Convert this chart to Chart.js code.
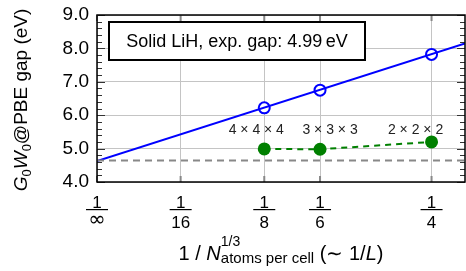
<!DOCTYPE html>
<html><head><meta charset="utf-8">
<script src="https://cdn.jsdelivr.net/npm/chart.js@4/dist/chart.umd.min.js"></script>
<style>html,body{margin:0;padding:0;background:#fff;overflow:hidden}#w{width:466px;height:271px;position:relative}</style>
</head><body><div id="w"><canvas id="c"></canvas></div>
<script>
// ---- data ----
const xTickValues = [0, 1/16, 1/8, 1/6, 1/4];
const xTickDenoms = ['∞', '16', '8', '6', '4'];
const yTickValues = [4, 5, 6, 7, 8, 9];
const cellX = [1/8, 1/6, 1/4];
const cellLabels = ['4 × 4 × 4', '3 × 3 × 3', '2 × 2 × 2'];
const g0w0Gap = [6.22, 6.75, 7.82];
const correctedGap = [4.99, 4.98, 5.20];
const fitX = [0, 0.275];
const fitY = [4.63, 8.15];
const extrapolatedGap = 4.64;
const boxText = 'Solid LiH, exp. gap: 4.99\u2009eV';

const F = '"Liberation Sans", Arial, Helvetica, sans-serif';

function drawSegs(ctx, segs, x0, base) {
  let x = x0;
  segs.forEach(s => {
    ctx.font = s.font;
    ctx.fillText(s.t, x, base + (s.dy || 0));
    const w = ctx.measureText(s.t).width;
    if (s.adv !== false) x += w;
  });
  return x - x0;
}
function segsWidth(ctx, segs) {
  let w = 0;
  segs.forEach(s => { ctx.font = s.font; const m = ctx.measureText(s.t).width; if (s.adv !== false) w += m; });
  return w;
}
function noPad(s) { s.paddingTop = 0; s.paddingBottom = 0; s.paddingLeft = 0; s.paddingRight = 0; }

const decor = {
  id: 'decor',
  afterDraw(chart) {
    const {ctx, chartArea: a, scales: {x, y}} = chart;
    ctx.save();
    ctx.strokeStyle = '#333'; ctx.lineWidth = 1;
    for (let i = 0; i <= 25; i++) {
      const v = 4 + i * 0.2;
      const py = Math.round(y.getPixelForValue(v)) + 0.5;
      const L = (i % 5 === 0) ? 8 : 5;
      ctx.beginPath();
      ctx.moveTo(a.left, py); ctx.lineTo(a.left + L, py);
      ctx.moveTo(a.right, py); ctx.lineTo(a.right - L, py);
      ctx.stroke();
    }
    ctx.strokeStyle = '#888'; ctx.lineWidth = 2;
    xTickValues.forEach(v => {
      const px = x.getPixelForValue(v);
      ctx.beginPath();
      ctx.moveTo(px, a.top); ctx.lineTo(px, a.top + 6);
      ctx.moveTo(px, a.bottom); ctx.lineTo(px, a.bottom - 6);
      ctx.stroke();
    });
    ctx.strokeStyle = '#000'; ctx.lineWidth = 1.5;
    ctx.strokeRect(a.left, a.top, a.right - a.left, a.bottom - a.top);

    ctx.fillStyle = '#222'; ctx.font = '14px ' + F;
    ctx.textAlign = 'center'; ctx.textBaseline = 'middle';
    const offs = [-8, 10, -16];
    cellX.forEach((v, i) => {
      ctx.fillText(cellLabels[i], x.getPixelForValue(v) + offs[i], y.getPixelForValue(5.54));
    });

    const bx = a.left + 12, by = a.top + 7, bw = 256, bh = 38;
    ctx.fillStyle = '#fff'; ctx.fillRect(bx, by, bw, bh);
    ctx.strokeStyle = '#000'; ctx.lineWidth = 2; ctx.strokeRect(bx, by, bw, bh);
    ctx.fillStyle = '#000'; ctx.font = '18px ' + F;
    ctx.textAlign = 'center'; ctx.textBaseline = 'middle';
    ctx.fillText(boxText, bx + bw / 2, by + bh / 2 + 1);

    ctx.textAlign = 'center'; ctx.textBaseline = 'alphabetic'; ctx.fillStyle = '#000';
    xTickValues.forEach((v, i) => {
      const px = x.getPixelForValue(v);
      ctx.font = '17px ' + F;
      ctx.fillText('1', px, 208);
      ctx.fillRect(px - 11, 209, 22, 1.2);
      if (xTickDenoms[i] === '∞') { ctx.font = '21px "DejaVu Sans", sans-serif'; ctx.fillText('∞', px, 226); }
      else { ctx.font = '17px ' + F; ctx.fillText(xTickDenoms[i], px, 228); }
    });

    ctx.textAlign = 'left';
    const xs = [
      {t: '1 / ', font: '20px ' + F},
      {t: 'N', font: 'italic 20px ' + F},
      {t: '1/3', font: '14px ' + F, dy: -14, adv: false},
      {t: 'atoms per cell', font: '15px ' + F, dy: 3},
      {t: ' (\u223C 1/', font: '20px ' + F},
      {t: 'L', font: 'italic 20px ' + F},
      {t: ')', font: '20px ' + F}
    ];
    const xw = segsWidth(ctx, xs);
    drawSegs(ctx, xs, 281 - xw / 2, 260);

    ctx.translate(20, 100); ctx.rotate(-Math.PI / 2);
    const ys = [
      {t: 'G', font: 'italic 19px ' + F},
      {t: '0', font: '13px ' + F, dy: 4},
      {t: 'W', font: 'italic 19px ' + F},
      {t: '0', font: '13px ' + F, dy: 4},
      {t: '@PBE gap (eV)', font: '19px ' + F}
    ];
    const yw = segsWidth(ctx, ys);
    drawSegs(ctx, ys, -yw / 2, 7);
    ctx.restore();
  }
};

new Chart(document.getElementById('c'), {
  type: 'scatter',
  data: {
    datasets: [
      {
        data: fitX.map((v, i) => ({x: v, y: extrapolatedGap})),
        showLine: true, borderColor: '#888', borderWidth: 2, borderDash: [7, 5],
        pointRadius: 0
      },
      {
        data: fitX.map((v, i) => ({x: v, y: fitY[i]})),
        showLine: true, borderColor: '#0000ff', borderWidth: 2, pointRadius: 0
      },
      {
        data: cellX.map((v, i) => ({x: v, y: g0w0Gap[i]})),
        showLine: false, pointRadius: 5.5, pointBorderWidth: 2,
        pointBorderColor: '#0000ff', pointBackgroundColor: '#fff'
      },
      {
        data: cellX.map((v, i) => ({x: v, y: correctedGap[i]})),
        showLine: true, borderColor: '#008000', borderWidth: 2, borderDash: [6, 5],
        pointRadius: 6.5, pointBorderWidth: 0, pointBackgroundColor: '#008000'
      }
    ]
  },
  options: {
    responsive: true, maintainAspectRatio: false, animation: false,
    layout: {autoPadding: false, padding: {top: 15, right: 1, left: 0, bottom: 0}},
    plugins: {legend: {display: false}, tooltip: {enabled: false}},
    scales: {
      x: {
        type: 'linear', min: 0, max: 0.275,
        afterBuildTicks: s => { s.ticks = xTickValues.map(v => ({value: v})); },
        afterFit: s => { s.height = 89; noPad(s); },
        ticks: {display: false},
        grid: {color: '#c4c4c4', lineWidth: 1, drawTicks: false},
        border: {display: false}
      },
      y: {
        min: 4, max: 9,
        afterBuildTicks: s => { s.ticks = yTickValues.map(v => ({value: v})); },
        afterFit: s => { s.width = 97; noPad(s); },
        ticks: {padding: 8, color: '#000', font: {family: F, size: 19}, callback: v => v.toFixed(1)},
        grid: {color: '#c4c4c4', lineWidth: 1, drawTicks: false},
        border: {display: false}
      }
    }
  },
  plugins: [decor]
});
</script>
</body></html>
